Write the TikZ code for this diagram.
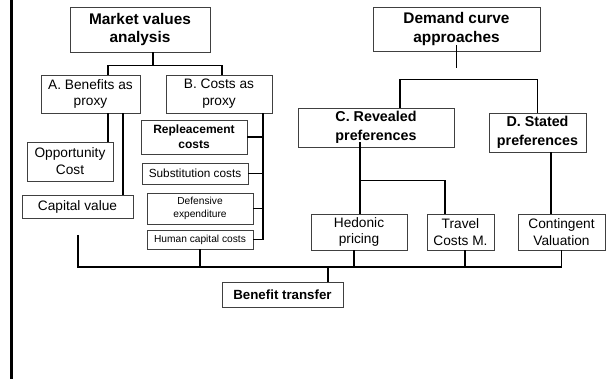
\documentclass[tikz,border=0pt]{standalone}
\usepackage{fontspec}
\setmainfont{Liberation Sans}
\begin{document}
\begin{tikzpicture}[x=1pt,y=-1pt,
  box/.style={draw=black!75,line width=0.9pt,inner sep=0pt,align=center,rectangle},
  reg/.style={font=\fontsize{13.7}{16.8}\selectfont},
  big/.style={font=\fontsize{15.4}{18.5}\selectfont\bfseries},
  mid/.style={font=\fontsize{14.3}{18.5}\selectfont\bfseries},
  small/.style={font=\fontsize{10.2}{12.5}\selectfont},
  conn/.style={line width=1.6pt},
  heavy/.style={line width=2.4pt},
  thin/.style={line width=1.2pt}]
\useasboundingbox (0,0) rectangle (607,379);

% left margin rule
\draw[line width=2.5pt] (11.5,0) -- (11.5,379);

% market values branch
\node[box,big,minimum width=140,minimum height=45] (mv) at (140,29.5) {Market values\\analysis};
\node[box,reg,minimum width=99,minimum height=38] (A) at (90.5,94) {A. Benefits as\\proxy};
\node[box,reg,minimum width=106,minimum height=38] (B) at (219,94) {B. Costs as\\proxy};
\node[box,reg,minimum width=86,minimum height=39] (opp) at (70,161.5) {Opportunity\\Cost};
\node[box,reg,minimum width=111,minimum height=23] (cap) at (77.5,206.5) {Capital value};
\node[box,font=\fontsize{12}{15}\selectfont\bfseries,minimum width=106,minimum height=34] (rep) at (194,137) {Repleacement\\costs};
\node[box,font=\fontsize{11.8}{13}\selectfont,minimum width=106,minimum height=21] (sub) at (195,173.5) {Substitution costs};
\node[box,small,minimum width=106,minimum height=31] (def) at (200,208.5) {Defensive\\expenditure};
\node[box,small,minimum width=106,minimum height=19] (hum) at (200,239.5) {Human capital costs};

% demand curve branch
\node[box,big,minimum width=167,minimum height=44] (dc) at (456.5,29) {Demand curve\\approaches};
\node[box,mid,minimum width=156,minimum height=39] (C) at (376,127.5) {C. Revealed\\preferences};
\node[box,mid,minimum width=97,minimum height=39] (D) at (537.5,132.5) {D. Stated\\preferences};
\node[box,reg,minimum width=96,minimum height=36] (hed) at (359,232) {Hedonic\\pricing};
\node[box,reg,minimum width=67,minimum height=36] (tra) at (460.5,232) {Travel\\Costs M.};
\node[box,reg,minimum width=87,minimum height=36] (con) at (561.5,232) {Contingent\\Valuation};

% common target
\node[box,font=\fontsize{13.3}{15}\selectfont\bfseries,minimum width=121,minimum height=25] (bt) at (282.5,294.5) {Benefit transfer};

% market values connectors
\draw[conn] ([xshift=13]mv.south) -- ++(0,14);
\draw[conn] ([xshift=17.5]A.north) -- ++(0,-9) -| ([xshift=3]B.north);
\draw[heavy] ([xshift=17.5]A.south) -- ([xshift=38]opp.north);
\draw[thin] ([xshift=32.5]A.south) -- ([xshift=45.5]cap.north);
\coordinate (btrunk) at ([xshift=44]B.south);
\draw[conn] (btrunk) |- (hum.east);
\draw[conn] (rep.east) -- (rep.east -| btrunk);
\draw[conn] (sub.east) -- (sub.east -| btrunk);
\draw[conn] (def.east) -- (def.east -| btrunk);

% demand curve connectors
\draw[thin] ([yshift=6]dc.south) -- ++(0,23);
\draw[conn] ([xshift=24]C.north) -- ++(0,-28) -| (D.north);
\draw[conn] ([xshift=-16,yshift=5]C.south) -- ([xshift=1]hed.north);
\draw[conn] ([xshift=1]hed.north) ++(0,-33) -| ([xshift=-15.5]tra.north);
\draw[thin] ([xshift=13.5]D.south) -- ([xshift=-10.5]con.north);

% collecting bus into benefit transfer
\coordinate (busL) at (78,235);
\coordinate (busY) at (0,267);
\draw[conn] (busL) |- (con.south |- busY) -- (con.south);
\draw[conn] (hum.south) -- (hum.south |- busY);
\draw[conn] ([xshift=-5]hed.south) -- ++(0,17);
\draw[conn] ([xshift=4.5]tra.south) -- ++(0,17);
\draw[conn] ([xshift=45.5]bt.north) -- ++(0,-15);
\end{tikzpicture}
\end{document}
